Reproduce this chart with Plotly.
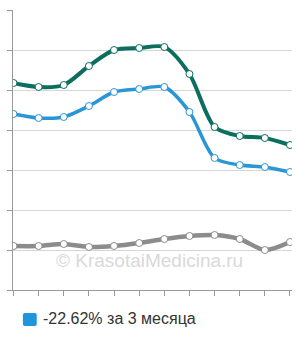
import plotly.graph_objects as go

x_idx = list(range(12))
green_vals = [5.175, 5.075, 5.125, 5.6, 6.0, 6.05, 6.075, 5.4, 4.075, 3.85, 3.8, 3.625]
blue_vals = [4.4, 4.3, 4.325, 4.6, 4.95, 5.025, 5.075, 4.45, 3.3, 3.125, 3.075, 2.95]
gray_vals = [1.1, 1.1, 1.15, 1.075, 1.1, 1.175, 1.275, 1.35, 1.375, 1.275, 1.0, 1.2]
y_ticks = [0, 1, 2, 3, 4, 5, 6, 7]
legend_text = "-22.62% за 3 месяца"
watermark = "© KrasotaiMedicina.ru"

series = [
    (gray_vals, "#8c8c8c", 4.5),
    (green_vals, "#0b6e5f", 4),
    (blue_vals, "#2a96d6", 3.5),
]

fig = go.Figure()
for vals, col, w in series:
    fig.add_trace(go.Scatter(
        x=x_idx, y=vals, mode="lines+markers",
        line=dict(color=col, width=w, shape="spline", smoothing=0.8),
        marker=dict(size=7, color="white", line=dict(color=col, width=1)),
        showlegend=False, hoverinfo="skip",
    ))

L, R, T, B = 10, 8, 10, 50
W, H = 300, 340
fig.update_layout(
    width=W, height=H,
    margin=dict(l=L, r=R, t=T, b=B),
    paper_bgcolor="white", plot_bgcolor="white",
    font=dict(family="Liberation Sans, Arial, sans-serif", color="#333"),
    xaxis=dict(range=[-0.02, 11.08], tickvals=x_idx, ticktext=[""] * 12,
               showgrid=False, zeroline=False, showline=True, linecolor="#999",
               linewidth=1, ticks="outside", ticklen=5, tickcolor="#999"),
    yaxis=dict(range=[0, 7], tickvals=y_ticks, ticktext=[""] * len(y_ticks),
               showgrid=True, gridcolor="#d6d6d6", gridwidth=1, zeroline=False,
               showline=True, linecolor="#999", linewidth=1,
               ticks="outside", ticklen=5, tickcolor="#999"),
)

pw = W - L - R
ph = H - T - B
def px(xp):
    return (xp - L) / pw
def py(yp):
    return (H - B - yp) / ph

fig.add_annotation(text=watermark, xref="paper", yref="paper",
                   x=px(148), y=py(273), showarrow=False,
                   font=dict(size=19, color="#d9d9d9", family="Liberation Sans, Arial, sans-serif"))

# rounded legend square
x0, x1, y0, y1, r = 20, 34, 313, 326, 2
path = (f"M {px(x0+r)},{py(y0)} L {px(x1-r)},{py(y0)} Q {px(x1)},{py(y0)} {px(x1)},{py(y0+r)} "
        f"L {px(x1)},{py(y1-r)} Q {px(x1)},{py(y1)} {px(x1-r)},{py(y1)} "
        f"L {px(x0+r)},{py(y1)} Q {px(x0)},{py(y1)} {px(x0)},{py(y1-r)} "
        f"L {px(x0)},{py(y0+r)} Q {px(x0)},{py(y0)} {px(x0+r)},{py(y0)} Z")
fig.add_shape(type="path", xref="paper", yref="paper", path=path,
              fillcolor="#1f96dc", line=dict(width=0))
fig.add_annotation(text=legend_text, xref="paper", yref="paper",
                   x=px(38.5), y=py(329), xanchor="left", showarrow=False,
                   font=dict(size=16, color="#333", family="Liberation Sans, Arial, sans-serif"))

fig.write_html("out.html")
